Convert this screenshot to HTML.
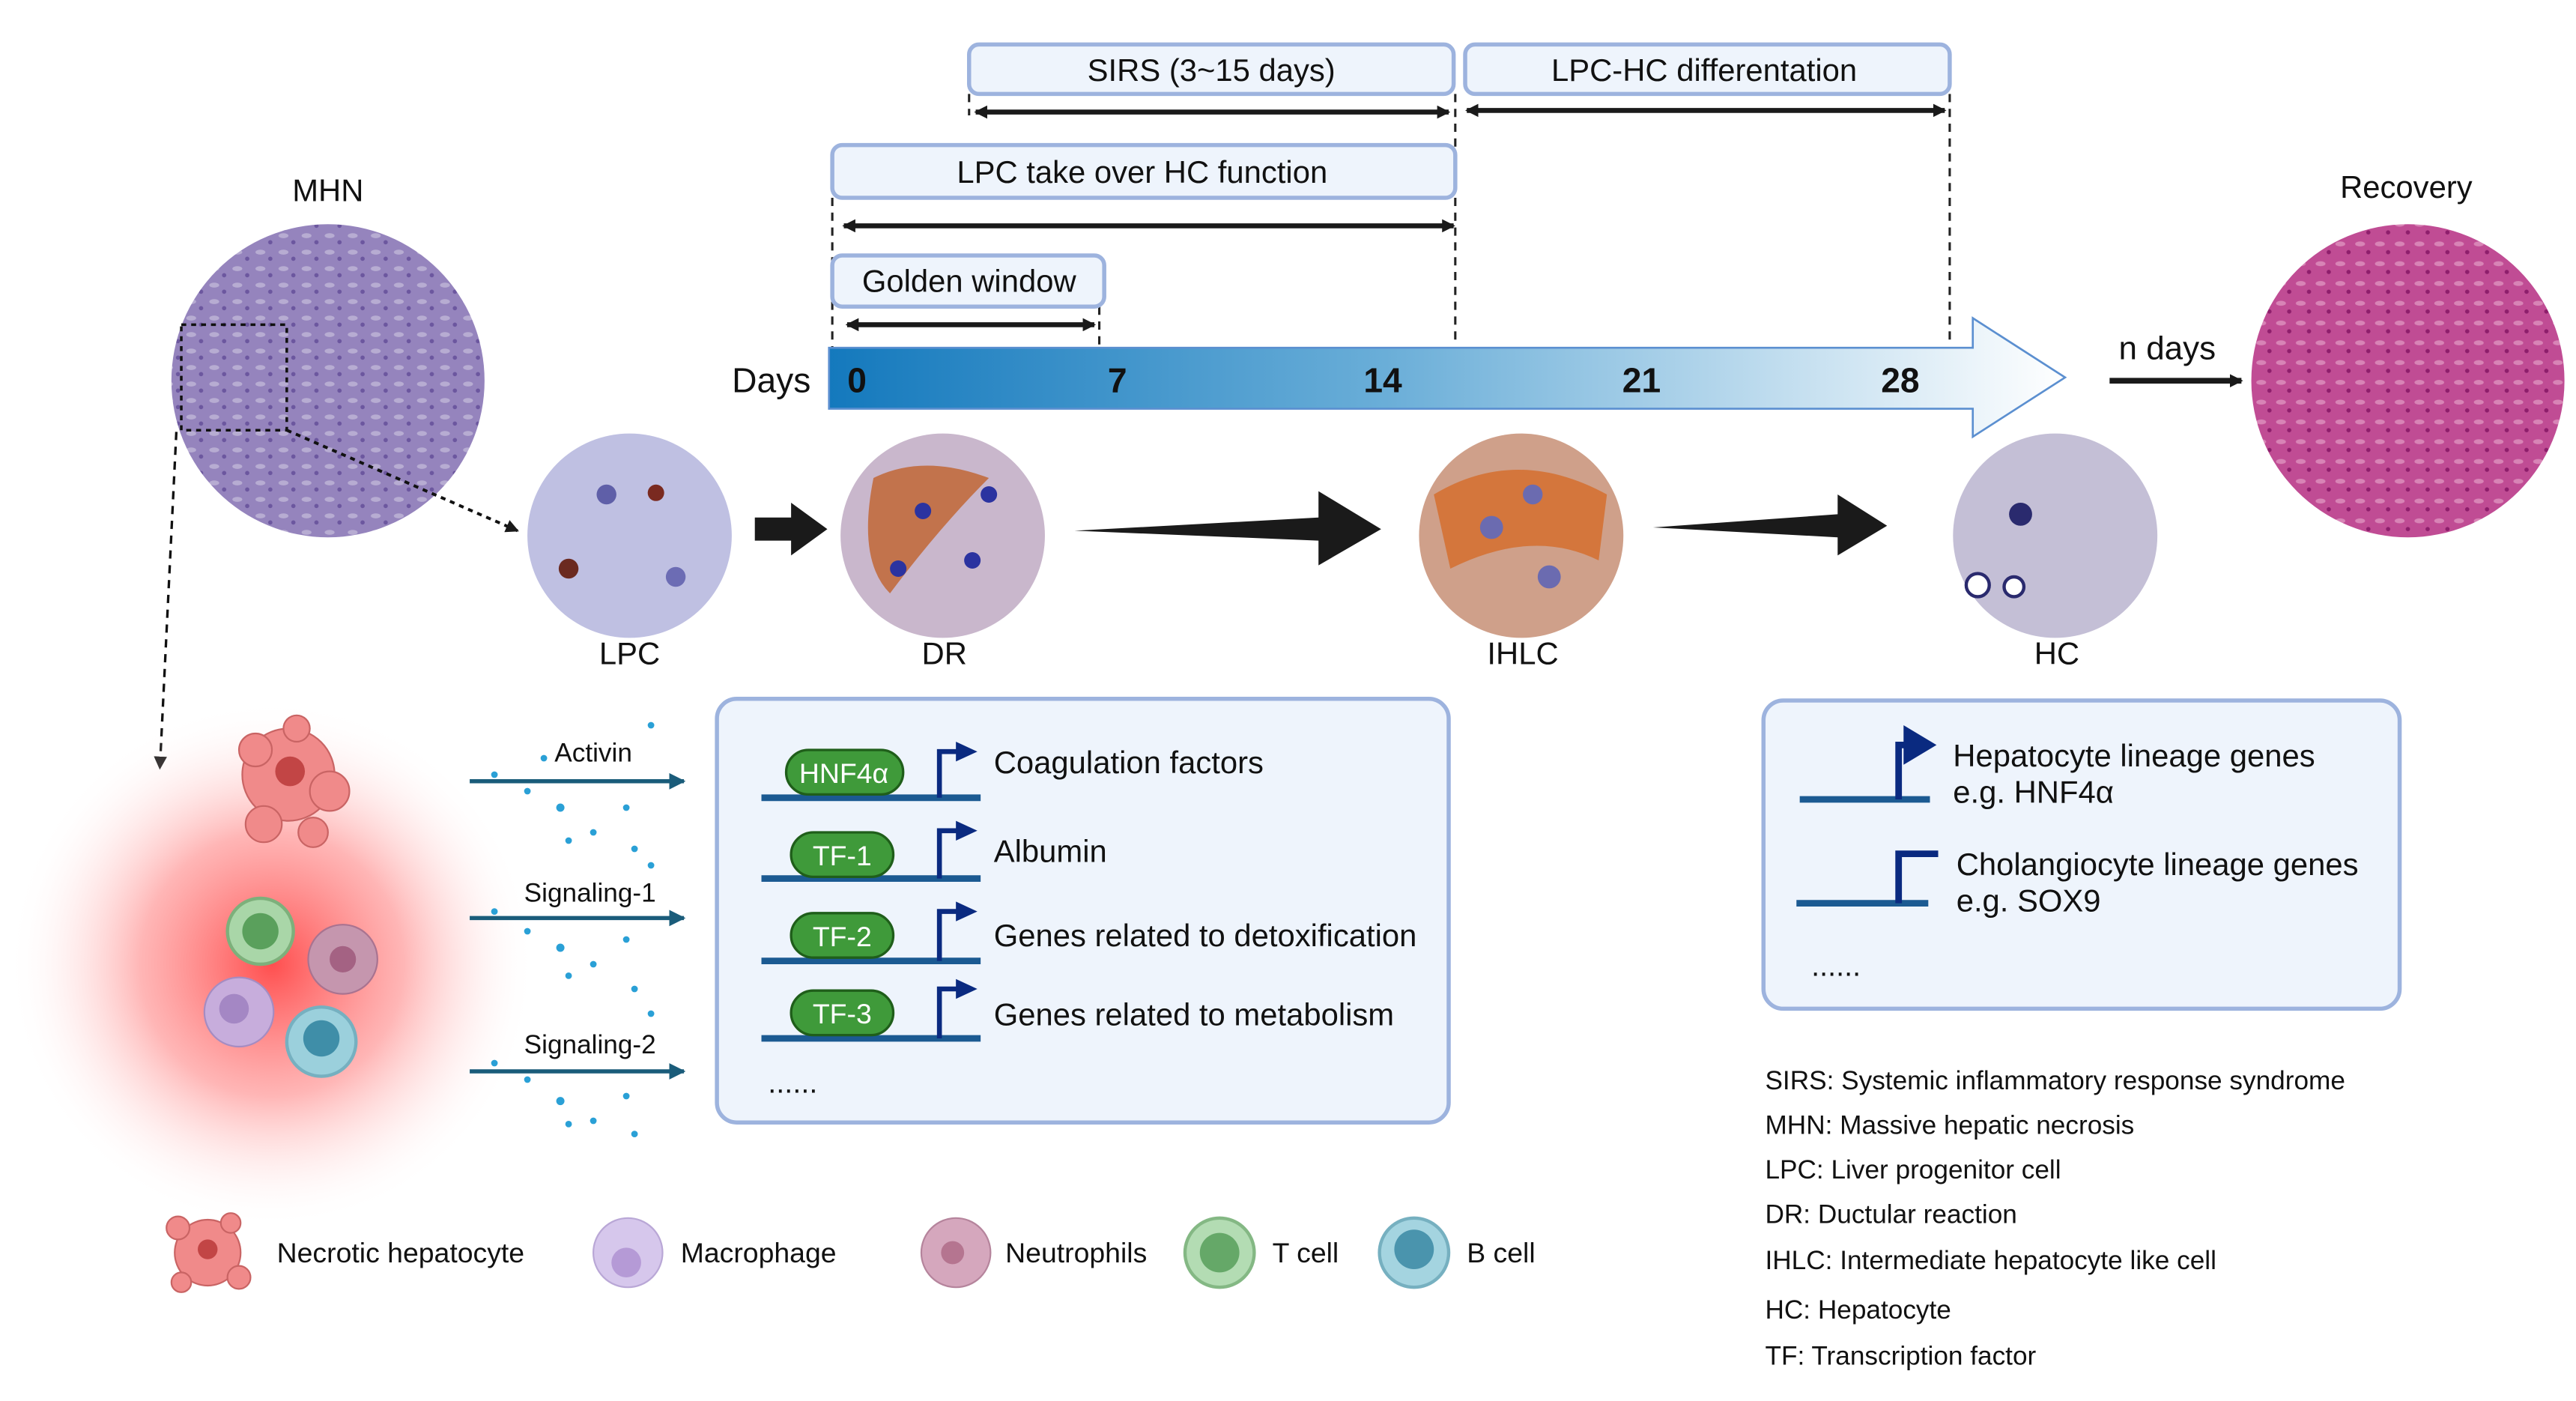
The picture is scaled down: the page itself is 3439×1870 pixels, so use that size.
<!DOCTYPE html>
<html><head><meta charset="utf-8"><style>
html,body{margin:0;padding:0;background:#fff}
svg{display:block}
text{font-family:"Liberation Sans",sans-serif}
</style></head><body>
<svg width="3439" height="1870" viewBox="0 0 1563 850" preserveAspectRatio="none" xmlns="http://www.w3.org/2000/svg">
<defs>
<linearGradient id="tl" x1="0" x2="1" y1="0" y2="0">
<stop offset="0" stop-color="#1479bd"/><stop offset="0.45" stop-color="#6aaed8"/><stop offset="1" stop-color="#ffffff"/>
</linearGradient>
<radialGradient id="glow" cx="0.5" cy="0.5" r="0.5">
<stop offset="0" stop-color="#ff3b3b" stop-opacity="0.9"/><stop offset="0.5" stop-color="#ff7a7a" stop-opacity="0.55"/><stop offset="1" stop-color="#ffffff" stop-opacity="0"/>
</radialGradient>
<pattern id="pmhn" width="14" height="10" patternUnits="userSpaceOnUse">
<rect width="14" height="10" fill="#9584bd"/><ellipse cx="4" cy="3" rx="3" ry="1.5" fill="#b7acd2"/><circle cx="10" cy="7" r="1.3" fill="#6c579f"/>
</pattern>
<pattern id="prec" width="12" height="12" patternUnits="userSpaceOnUse">
<rect width="12" height="12" fill="#c04c94"/><ellipse cx="4" cy="4" rx="3" ry="1.5" fill="#d884b6"/><circle cx="9" cy="9" r="1.3" fill="#8e1e6c"/>
</pattern>
<marker id="ah" markerWidth="8" markerHeight="8" refX="7" refY="4" orient="auto" markerUnits="userSpaceOnUse"><path d="M0,0 L8,4 L0,8 z" fill="#1a1a1a"/></marker>
<marker id="as" markerWidth="8" markerHeight="8" refX="1" refY="4" orient="auto" markerUnits="userSpaceOnUse"><path d="M8,0 L0,4 L8,8 z" fill="#1a1a1a"/></marker>
<marker id="at" markerWidth="10" markerHeight="10" refX="9" refY="5" orient="auto" markerUnits="userSpaceOnUse"><path d="M0,0 L10,5 L0,10 z" fill="#1a5c7a"/></marker>
</defs>

<!-- dashed verticals -->
<g stroke="#222" stroke-width="1.4" stroke-dasharray="5,4" fill="none">
<line x1="588" y1="57" x2="588" y2="70"/>
<line x1="505" y1="120" x2="505" y2="212"/>
<line x1="883" y1="57" x2="883" y2="210"/>
<line x1="1183" y1="57" x2="1183" y2="210"/>
<line x1="667" y1="186" x2="667" y2="212"/>
</g>

<!-- header boxes -->
<g fill="#eef4fc" stroke="#9db3de" stroke-width="2.5">
<rect x="588" y="27" width="294" height="30" rx="6"/>
<rect x="889" y="27" width="294" height="30" rx="6"/>
<rect x="505" y="88" width="378" height="32" rx="6"/>
<rect x="505" y="155" width="165" height="31" rx="6"/>
</g>
<g font-size="19" text-anchor="middle" fill="#111">
<text x="735" y="49">SIRS (3~15 days)</text>
<text x="1034" y="49">LPC-HC differentation</text>
<text x="693" y="111">LPC take over HC function</text>
<text x="588" y="177">Golden window</text>
</g>
<g stroke="#1a1a1a" stroke-width="3" marker-end="url(#ah)" marker-start="url(#as)">
<line x1="592" y1="68" x2="879" y2="68"/>
<line x1="890" y1="67" x2="1180" y2="67"/>
<line x1="512" y1="137" x2="882" y2="137"/>
<line x1="514" y1="197" x2="664" y2="197"/>
</g>

<!-- timeline -->
<path d="M503,211 L1197,211 L1197,193 L1253,229 L1197,265 L1197,248 L503,248 Z" fill="url(#tl)" stroke="#5b8fd0" stroke-width="1.2"/>
<g font-size="21" font-weight="bold" fill="#111" text-anchor="middle">
<text x="468" y="238" font-weight="normal">Days</text>
<text x="520" y="238">0</text><text x="678" y="238">7</text><text x="839" y="238">14</text><text x="996" y="238">21</text><text x="1153" y="238">28</text>
</g>
<text x="1315" y="218" font-size="20" text-anchor="middle" fill="#111">n days</text>
<line x1="1280" y1="231" x2="1360" y2="231" stroke="#1a1a1a" stroke-width="3.5" marker-end="url(#ah)"/>

<!-- big circles -->
<text x="199" y="122" font-size="19" text-anchor="middle" fill="#111">MHN</text>
<circle cx="199" cy="231" r="95" fill="url(#pmhn)"/>
<rect x="110" y="197" width="64" height="64" fill="none" stroke="#111" stroke-width="1.6" stroke-dasharray="3,3"/>
<line x1="174" y1="261" x2="314" y2="322" stroke="#111" stroke-width="1.8" stroke-dasharray="3,3" marker-end="url(#ah)"/>
<line x1="107" y1="262" x2="97" y2="466" stroke="#111" stroke-width="1.5" stroke-dasharray="5,4" marker-end="url(#ah)"/>
<text x="1460" y="120" font-size="19" text-anchor="middle" fill="#111">Recovery</text>
<circle cx="1461" cy="231" r="95" fill="url(#prec)"/>

<!-- small circles -->
<circle cx="382" cy="325" r="62" fill="#bfc0e2"/>
<circle cx="368" cy="300" r="6" fill="#5f5fa8"/><circle cx="398" cy="299" r="5" fill="#7a2a20"/><circle cx="345" cy="345" r="6" fill="#6b2a20"/><circle cx="410" cy="350" r="6" fill="#6c6cb4"/>
<circle cx="572" cy="325" r="62" fill="#c9b7cc"/>
<path d="M530,290 Q560,275 600,290 Q570,320 540,360 Q520,340 530,290Z" fill="#c0622c" opacity="0.8"/>
<circle cx="560" cy="310" r="5" fill="#2b33a0"/><circle cx="590" cy="340" r="5" fill="#2b33a0"/><circle cx="545" cy="345" r="5" fill="#2b33a0"/><circle cx="600" cy="300" r="5" fill="#2b33a0"/>
<circle cx="923" cy="325" r="62" fill="#cfa08a"/>
<path d="M870,300 Q920,270 975,300 L970,340 Q930,320 880,345Z" fill="#d46b28" opacity="0.8"/>
<circle cx="905" cy="320" r="7" fill="#6b6bb0"/><circle cx="940" cy="350" r="7" fill="#6b6bb0"/><circle cx="930" cy="300" r="6" fill="#6b6bb0"/>
<circle cx="1247" cy="325" r="62" fill="#c4bfd6"/>
<circle cx="1226" cy="312" r="7" fill="#2a2a6e"/><circle cx="1200" cy="355" r="7" fill="#fff" stroke="#2a2a6e" stroke-width="2"/><circle cx="1222" cy="356" r="6" fill="#fff" stroke="#2a2a6e" stroke-width="2"/>
<g font-size="19" text-anchor="middle" fill="#111">
<text x="382" y="403">LPC</text><text x="573" y="403">DR</text><text x="924" y="403">IHLC</text><text x="1248" y="403">HC</text>
</g>
<g fill="#1a1a1a">
<path d="M458,314 L480,314 L480,305 L502,321 L480,337 L480,328 L458,328 Z"/>
<path d="M652,322 L800,314 L800,298 L838,321 L800,343 L800,328 Z"/>
<path d="M1003,320 L1115,312 L1115,300 L1145,319 L1115,337 L1115,326 Z"/>
</g>

<!-- left panel -->
<circle cx="165" cy="585" r="160" fill="url(#glow)"/>
<g fill="#f08a8a" stroke="#c96464" stroke-width="1">
<circle cx="175" cy="470" r="28"/><circle cx="155" cy="455" r="10"/><circle cx="200" cy="480" r="12"/><circle cx="160" cy="500" r="11"/><circle cx="190" cy="505" r="9"/><circle cx="180" cy="442" r="8"/>
</g>
<circle cx="176" cy="468" r="9" fill="#c24545"/>
<circle cx="158" cy="565" r="20" fill="#a9d6a8" stroke="#7db07b" stroke-width="2"/><circle cx="158" cy="565" r="11" fill="#5aa05c"/>
<circle cx="208" cy="582" r="21" fill="#c596ae" stroke="#a97390"/><circle cx="208" cy="582" r="8" fill="#a46283"/>
<circle cx="145" cy="614" r="21" fill="#c7addc" stroke="#a58cc2"/><circle cx="142" cy="612" r="9" fill="#a487c4"/>
<circle cx="195" cy="632" r="21" fill="#9bd0dc" stroke="#76b0c0" stroke-width="2"/><circle cx="195" cy="630" r="11" fill="#3f8ea8"/>

<g fill="#2aa0d6">
<circle cx="300" cy="470" r="2"/><circle cx="320" cy="480" r="2"/><circle cx="340" cy="490" r="2.5"/><circle cx="360" cy="505" r="2"/><circle cx="380" cy="490" r="2"/><circle cx="395" cy="440" r="2"/><circle cx="345" cy="510" r="2"/><circle cx="330" cy="460" r="2"/><circle cx="385" cy="515" r="2"/>
<circle cx="300" cy="553" r="2"/><circle cx="320" cy="565" r="2"/><circle cx="340" cy="575" r="2.5"/><circle cx="360" cy="585" r="2"/><circle cx="380" cy="570" r="2"/><circle cx="395" cy="525" r="2"/><circle cx="345" cy="592" r="2"/><circle cx="385" cy="600" r="2"/>
<circle cx="300" cy="645" r="2"/><circle cx="320" cy="655" r="2"/><circle cx="340" cy="668" r="2.5"/><circle cx="360" cy="680" r="2"/><circle cx="380" cy="665" r="2"/><circle cx="395" cy="615" r="2"/><circle cx="345" cy="682" r="2"/><circle cx="385" cy="688" r="2"/>
</g>
<g stroke="#1a5c7a" stroke-width="2.5" marker-end="url(#at)">
<line x1="285" y1="474" x2="415" y2="474"/><line x1="285" y1="557" x2="415" y2="557"/><line x1="285" y1="650" x2="415" y2="650"/>
</g>
<g font-size="16" text-anchor="middle" fill="#111">
<text x="360" y="462">Activin</text><text x="358" y="547">Signaling-1</text><text x="358" y="639">Signaling-2</text>
</g>

<!-- TF box -->
<rect x="435" y="424" width="444" height="257" rx="12" fill="#eef4fc" stroke="#9db3de" stroke-width="2.5"/>
<g id="rows">
<g stroke="#1b5a92" stroke-width="4"><line x1="462" y1="484" x2="595" y2="484"/><line x1="462" y1="533" x2="595" y2="533"/><line x1="462" y1="583" x2="595" y2="583"/><line x1="462" y1="630" x2="595" y2="630"/></g>
<g fill="#3f9a3a" stroke="#1f5e1a" stroke-width="1.5">
<rect x="477" y="455" width="71" height="27" rx="13.5"/><rect x="480" y="505" width="62" height="27" rx="13.5"/><rect x="480" y="554" width="62" height="27" rx="13.5"/><rect x="480" y="601" width="62" height="27" rx="13.5"/>
</g>
<g font-size="17" fill="#fff" text-anchor="middle"><text x="512" y="475">HNF4α</text><text x="511" y="525">TF-1</text><text x="511" y="574">TF-2</text><text x="511" y="621">TF-3</text></g>
<g stroke="#0a2a80" stroke-width="3" fill="none"><path d="M570,484 V456 H582"/><path d="M570,533 V504 H582"/><path d="M570,583 V553 H582"/><path d="M570,630 V600 H582"/></g>
<g fill="#0a2a80"><path d="M580,450 L593,456 L580,462Z"/><path d="M580,498 L593,504 L580,510Z"/><path d="M580,547 L593,553 L580,559Z"/><path d="M580,594 L593,600 L580,606Z"/></g>
<g font-size="19" fill="#111"><text x="603" y="469">Coagulation factors</text><text x="603" y="523">Albumin</text><text x="603" y="574">Genes related to detoxification</text><text x="603" y="622">Genes related to metabolism</text></g>
<text x="466" y="663" font-size="18" fill="#111">......</text>
</g>

<!-- lineage box -->
<rect x="1070" y="425" width="386" height="187" rx="12" fill="#eef4fc" stroke="#9db3de" stroke-width="2.5"/>
<g stroke="#1b5a92" stroke-width="4"><line x1="1092" y1="485" x2="1171" y2="485"/><line x1="1090" y1="548" x2="1170" y2="548"/></g>
<g stroke="#0a2a80" stroke-width="4" fill="none"><path d="M1152,485 V452 H1165"/><path d="M1152,548 V518 H1176"/></g>
<path d="M1155,440 L1175,452 L1155,464Z" fill="#0a2a80"/>
<g font-size="19" fill="#111">
<text x="1185" y="465">Hepatocyte lineage genes</text><text x="1185" y="487">e.g. HNF4α</text>
<text x="1187" y="531">Cholangiocyte lineage genes</text><text x="1187" y="553">e.g. SOX9</text>
</g>
<text x="1099" y="592" font-size="18" fill="#111">......</text>

<!-- abbreviations -->
<g font-size="16" fill="#111">
<text x="1071" y="661">SIRS: Systemic inflammatory response syndrome</text>
<text x="1071" y="688">MHN: Massive hepatic necrosis</text>
<text x="1071" y="715">LPC: Liver progenitor cell</text>
<text x="1071" y="742">DR: Ductular reaction</text>
<text x="1071" y="770">IHLC: Intermediate hepatocyte like cell</text>
<text x="1071" y="800">HC: Hepatocyte</text>
<text x="1071" y="828">TF: Transcription factor</text>
</g>

<!-- legend -->
<g fill="#f08a8a" stroke="#c96464" stroke-width="1">
<circle cx="126" cy="760" r="20"/><circle cx="108" cy="745" r="7"/><circle cx="145" cy="775" r="7"/><circle cx="110" cy="778" r="6"/><circle cx="140" cy="742" r="6"/>
</g>
<circle cx="126" cy="758" r="6" fill="#c24545"/>
<circle cx="381" cy="760" r="21" fill="#d6c7ec" stroke="#b9a7d6"/><circle cx="380" cy="766" r="9" fill="#b59ad6"/>
<circle cx="580" cy="760" r="21" fill="#d5a7bd" stroke="#b5849c"/><circle cx="578" cy="760" r="7" fill="#b57590"/>
<circle cx="740" cy="760" r="21" fill="#b3dcb3" stroke="#84b884" stroke-width="2"/><circle cx="740" cy="760" r="12" fill="#65a868"/>
<circle cx="858" cy="760" r="21" fill="#a4d4e0" stroke="#76b0c0" stroke-width="2"/><circle cx="858" cy="758" r="12" fill="#4a94ad"/>
<g font-size="17" fill="#111">
<text x="168" y="766">Necrotic hepatocyte</text><text x="413" y="766">Macrophage</text><text x="610" y="766">Neutrophils</text><text x="772" y="766">T cell</text><text x="890" y="766">B cell</text>
</g>
</svg>
</body></html>
